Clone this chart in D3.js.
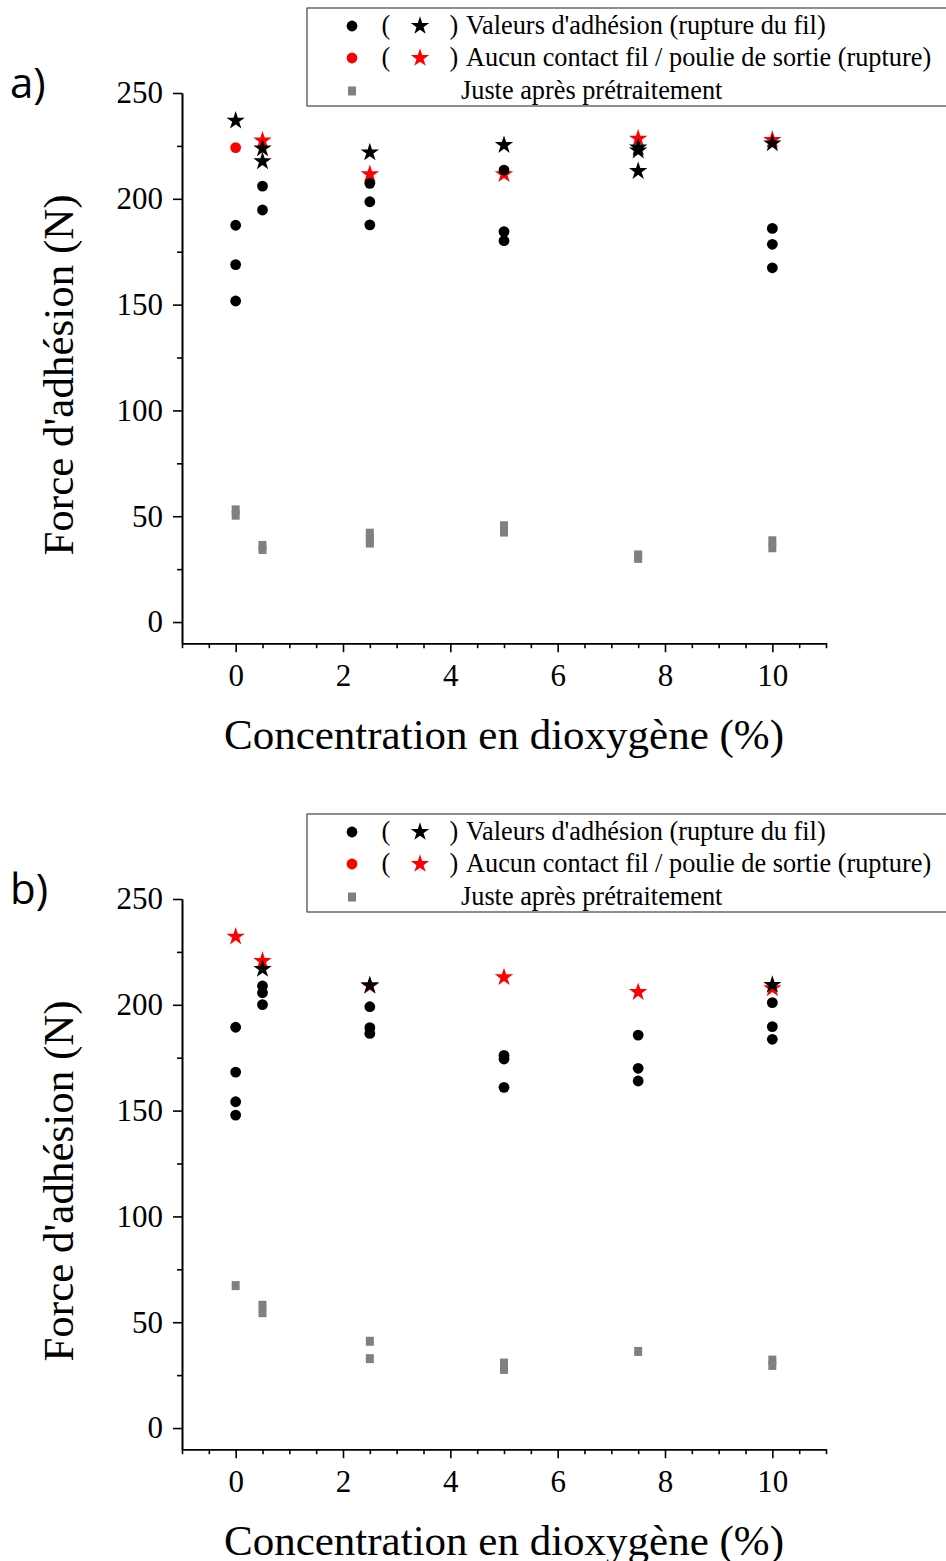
<!DOCTYPE html>
<html>
<head>
<meta charset="utf-8">
<script src="https://cdn.jsdelivr.net/npm/d3@7"></script>
<style>
  body { margin: 0; background: #fff; }
  svg text { font-family: "Liberation Serif", "Times New Roman", serif; }
  .axis path, .axis line { stroke: #000; stroke-width: 1.6; }
  .axis text { font-size: 31px; fill: #000; }
</style>
</head>
<body>
<svg id="chart" width="946" height="1561"></svg>
<script>
// concentrations on the x axis (%)
const xMajorTicks = [0, 2, 4, 6, 8, 10];
const yMajorTicks = [0, 50, 100, 150, 200, 250];

// panel a) : [concentration, force (N)]
const blackCirclesA = [[0, 187.5], [0, 168.9], [0, 151.7], [0.5, 206.0], [0.5, 194.7],
    [2.5, 207.3], [2.5, 198.6], [2.5, 187.7], [5, 213.6], [5, 184.5], [5, 180.2],
    [10, 186.0], [10, 178.5], [10, 167.4]];
const redCirclesA = [[0, 224.2]];
const blackStarsA = [[0, 236.9], [0.5, 223.8], [0.5, 217.7], [2.5, 221.9], [5, 225.4],
    [7.5, 224.2], [7.5, 222.8], [7.5, 213.1], [10, 226.2]];
const redStarsA = [[0.5, 227.5], [2.5, 211.6], [5, 211.6], [7.5, 228.4], [10, 227.8]];
const squaresA = [[0, 53.0], [0, 50.5], [0.5, 36.2], [0.5, 34.3], [2.5, 42.0], [2.5, 39.5],
    [2.5, 37.3], [5, 45.5], [5, 42.5], [7.5, 31.7], [7.5, 30.1], [10, 38.4], [10, 35.1]];

// panel b)
const blackCirclesB = [[0, 189.4], [0, 168.2], [0, 154.2], [0, 147.9], [0.5, 208.9],
    [0.5, 205.7], [0.5, 200.1], [2.5, 199.1], [2.5, 189.2], [2.5, 186.5], [5, 176.1],
    [5, 174.4], [5, 161.0], [7.5, 185.7], [7.5, 170.0], [7.5, 164.0], [10, 201.0],
    [10, 189.7], [10, 183.7]];
const redCirclesB = [];
const blackStarsB = [[0.5, 216.9], [2.5, 209.2], [10, 209.4]];
const redStarsB = [[0, 232.2], [0.5, 220.7], [2.5, 208.9], [5, 213.0], [7.5, 206.0], [10, 207.8]];
const squaresB = [[0, 67.3], [0.5, 58.0], [0.5, 54.5], [2.5, 41.0], [2.5, 32.8], [5, 30.7],
    [5, 27.7], [7.5, 36.2], [10, 32.1], [10, 29.6]];

const legendLabels = ["Valeurs d'adhésion (rupture du fil)",
    "Aucun contact fil / poulie de sortie (rupture)",
    "Juste après prétraitement"];

const svg = d3.select("#chart");

const marginLeft = 182, marginRight = 826;

function drawPanel(offsetY, label, blackCircles, redCircles, blackStars, redStars, squares) {
    const g = svg.append("g").attr("transform", `translate(0,${offsetY})`);

    const x = d3.scaleLinear().domain([-1, 11]).range([marginLeft, marginRight]);
    const y = d3.scaleLinear().domain([-10, 250]).range([643.2, 93]);

    // minor ticks x
    const xMinor = d3.range(-1, 11.01, 0.5).filter(v => !xMajorTicks.includes(v));
    g.append("g")
        .attr("class", "axis")
        .attr("transform", `translate(0,${y(-10)})`)
        .call(d3.axisBottom(x).tickValues(xMinor).tickSize(5).tickSizeOuter(0).tickFormat(""));
    g.append("g")
        .attr("class", "axis")
        .attr("transform", `translate(0,${y(-10)})`)
        .call(d3.axisBottom(x).tickValues(xMajorTicks).tickSize(9).tickSizeOuter(0).tickPadding(12));

    const yMinor = d3.range(25, 250, 50);
    g.append("g")
        .attr("class", "axis")
        .attr("transform", `translate(${marginLeft},0)`)
        .call(d3.axisLeft(y).tickValues(yMinor).tickSize(5).tickSizeOuter(0).tickFormat(""));
    g.append("g")
        .attr("class", "axis")
        .attr("transform", `translate(${marginLeft},0)`)
        .call(d3.axisLeft(y).tickValues(yMajorTicks).tickSize(9).tickSizeOuter(0).tickPadding(10));

    // axis titles
    g.append("text")
        .attr("x", (marginLeft + marginRight) / 2)
        .attr("y", 749)
        .attr("text-anchor", "middle")
        .attr("font-size", "43px")
        .text("Concentration en dioxygène (%)");

    g.append("text")
        .attr("transform", "rotate(-90)")
        .attr("x", -375)
        .attr("y", 73)
        .attr("text-anchor", "middle")
        .attr("font-size", "43px")
        .text("Force d'adhésion (N)");

    // panel label
    g.append("text")
        .attr("x", 10)
        .attr("y", 98)
        .attr("font-size", "42px")
        .style("font-family", "'Open Sans', 'Noto Sans', sans-serif")
        .text(label);

    // gray squares
    g.selectAll(".sq")
        .data(squares)
        .enter()
        .append("rect")
        .attr("x", d => x(d[0]) - 4)
        .attr("y", d => y(d[1]) - 4.5)
        .attr("width", 8)
        .attr("height", 9)
        .attr("fill", "#808080");

    const star = d3.symbol(d3.symbolStar).size(105);

    g.selectAll(".rstar")
        .data(redStars)
        .enter()
        .append("path")
        .attr("d", star)
        .attr("transform", d => `translate(${x(d[0])},${y(d[1])})`)
        .attr("fill", "#ff0000");

    g.selectAll(".rcirc")
        .data(redCircles)
        .enter()
        .append("circle")
        .attr("cx", d => x(d[0]))
        .attr("cy", d => y(d[1]))
        .attr("r", 5.4)
        .attr("fill", "#ff0000");

    g.selectAll(".bstar")
        .data(blackStars)
        .enter()
        .append("path")
        .attr("d", star)
        .attr("transform", d => `translate(${x(d[0])},${y(d[1])})`)
        .attr("fill", "#000");

    g.selectAll(".bcirc")
        .data(blackCircles)
        .enter()
        .append("circle")
        .attr("cx", d => x(d[0]))
        .attr("cy", d => y(d[1]))
        .attr("r", 5.4)
        .attr("fill", "#000");

    // legend
    const lg = g.append("g").attr("transform", "translate(0,8)");
    lg.append("rect")
        .attr("x", 307)
        .attr("y", 0)
        .attr("width", 660)
        .attr("height", 98)
        .attr("fill", "#fff")
        .attr("stroke", "#444")
        .attr("stroke-width", 1.2);

    const rowY = [18, 50, 83];
    const rowColors = ["#000", "#ff0000"];
    rowColors.forEach((c, i) => {
        lg.append("circle").attr("cx", 352).attr("cy", rowY[i]).attr("r", 5.4).attr("fill", c);
        lg.append("text").attr("x", 386).attr("y", rowY[i] + 8).attr("font-size", "26.3px").attr("text-anchor", "middle").text("(");
        lg.append("path").attr("d", star).attr("transform", `translate(420,${rowY[i]})`).attr("fill", c);
        lg.append("text").attr("x", 454).attr("y", rowY[i] + 8).attr("font-size", "26.3px").attr("text-anchor", "middle").text(")");
        lg.append("text").attr("x", 466).attr("y", rowY[i] + 8).attr("font-size", "26.3px").text(legendLabels[i]);
    });
    lg.append("rect").attr("x", 348).attr("y", rowY[2] - 4.5).attr("width", 8).attr("height", 9).attr("fill", "#808080");
    lg.append("text").attr("x", 461).attr("y", rowY[2] + 8).attr("font-size", "26.3px").text(legendLabels[2]);
}

drawPanel(0, "a)", blackCirclesA, redCirclesA, blackStarsA, redStarsA, squaresA);
drawPanel(806, "b)", blackCirclesB, redCirclesB, blackStarsB, redStarsB, squaresB);
</script>
</body>
</html>
